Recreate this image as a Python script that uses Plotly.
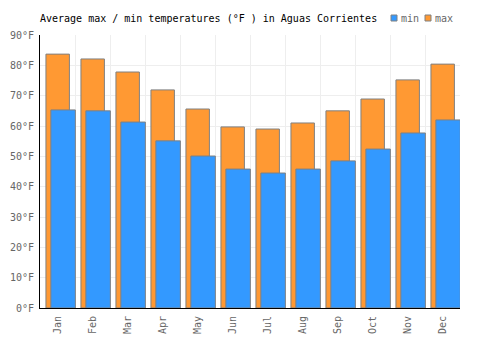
import plotly.graph_objects as go

months = ["Jan", "Feb", "Mar", "Apr", "May", "Jun", "Jul", "Aug", "Sep", "Oct", "Nov", "Dec"]
max_f = [83.7, 82.1, 77.8, 71.9, 65.6, 59.7, 59.0, 61.0, 65.0, 68.9, 75.2, 80.4]
min_f = [65.3, 65.0, 61.3, 55.1, 50.1, 45.8, 44.5, 45.8, 48.5, 52.4, 57.7, 62.0]
y_ticks = [0, 10, 20, 30, 40, 50, 60, 70, 80, 90]
y_labels = [f"{v}°F" for v in y_ticks]

ORANGE = "#FF9933"
BLUE = "#3399FF"
EDGE = "#808080"
FONT = "DejaVu Sans Mono"

fig = go.Figure()
fig.add_trace(go.Bar(x=months, y=max_f, name="max", marker=dict(color=ORANGE, line=dict(color=EDGE, width=1)),
                     offset=-0.33, width=0.67, showlegend=False))
fig.add_trace(go.Bar(x=months, y=min_f, name="min", marker=dict(color=BLUE, line=dict(color=EDGE, width=1)),
                     offset=-0.19, width=0.70, showlegend=False))

fig.update_layout(
    width=500, height=350,
    margin=dict(l=40, r=40, t=35, b=42),
    barmode="overlay",
    plot_bgcolor="white", paper_bgcolor="white",
    font=dict(family=FONT, size=10, color="#666666"),
    title=dict(text="Average max / min temperatures (°F ) in Aguas Corrientes",
               x=40/500, xanchor="left", y=1-18/350, yanchor="middle",
               font=dict(family=FONT, size=10, color="#000000")),
    xaxis=dict(range=[-0.5, 11.5], tickangle=-90, showgrid=True, gridcolor="#eeeeee",
               tickson="boundaries", ticks="", showline=True, linecolor="#000000", linewidth=1,
               automargin=False, ticklabelstandoff=3,
               tickfont=dict(family=FONT, size=10, color="#666666")),
    yaxis=dict(range=[0, 90], tickmode="array", tickvals=y_ticks, ticktext=y_labels,
               showgrid=True, gridcolor="#eeeeee", automargin=False, ticklabelstandoff=3,
               ticks="", showline=True, linecolor="#000000", linewidth=1, zeroline=False,
               tickfont=dict(family=FONT, size=10, color="#666666")),
)

# manual legend
legend_items = [("min", BLUE, 391), ("max", ORANGE, 425)]
for name, col, px in legend_items:
    fig.add_shape(type="rect", xref="paper", yref="paper",
                  x0=(px - 40) / 420, x1=(px + 6 - 40) / 420,
                  y0=(350 - 42 - 21) / 273, y1=(350 - 42 - 15) / 273,
                  fillcolor=col, line=dict(color=EDGE, width=1))
    fig.add_annotation(text=name, xref="paper", yref="paper", x=(px + 8 - 40) / 420, y=(350 - 42 - 18) / 273,
                       xanchor="left", yanchor="middle", showarrow=False,
                       font=dict(family=FONT, size=10, color="#666666"))

fig.write_html("out.html")
